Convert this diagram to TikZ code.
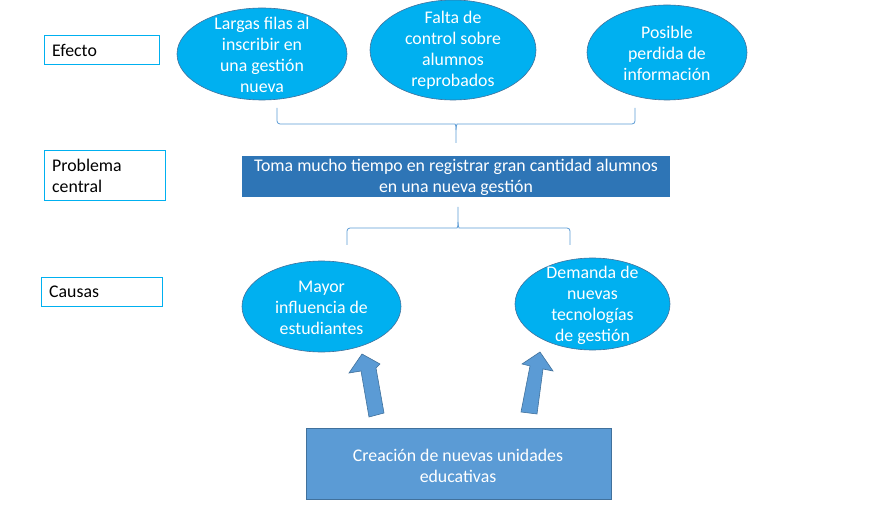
\documentclass[tikz,border=0pt]{standalone}
\usepackage{fontspec}
\setmainfont{Carlito}
\usetikzlibrary{shapes.geometric}
\definecolor{cyanf}{HTML}{00B0F0}
\definecolor{edgeb}{HTML}{41719C}
\definecolor{probf}{HTML}{2E75B6}
\definecolor{lightb}{HTML}{5B9BD5}
\tikzset{
  lbl/.style={draw=cyanf, line width=1pt, fill=white, anchor=north west, inner sep=0pt},
  lbltxt/.style={anchor=west, font=\fontsize{17.8}{21}\selectfont, align=left, inner sep=0pt},
  ell/.style={ellipse, draw=edgeb, line width=0.6pt, fill=cyanf, inner sep=0pt},
  elltxt/.style={text=white, font=\fontsize{17.8}{21}\selectfont, align=center, inner sep=0pt},
  brace/.style={draw=lightb, line width=0.8pt, rounded corners=3pt},
  blockarrow/.style={fill=lightb, draw=edgeb, line width=0.6pt, line join=miter},
}
\begin{document}
\begin{tikzpicture}[x=1pt,y=-1pt]
\useasboundingbox (0,0) rectangle (891,529);
% side labels
\node[lbl, minimum width=115pt, minimum height=29pt] (efecto) at (44,35) {};
\node[lbltxt] at (52,50) {Efecto};
\node[lbl, minimum width=121pt, minimum height=50pt] (problema) at (44,150) {};
\node[lbltxt] at (52,176) {Problema\\central};
\node[lbl, minimum width=121pt, minimum height=29pt] (causas) at (41,277) {};
\node[lbltxt] at (49,292) {Causas};
% effect ellipses
\node[ell, minimum width=170pt, minimum height=92pt] (e1) at (262,54) {};
\node[elltxt] at (262,55) {Largas filas al\\inscribir en\\una gestión\\nueva};
\node[ell, minimum width=166pt, minimum height=100pt] (e2) at (453,50) {};
\node[elltxt] at (453,50) {Falta de\\control sobre\\alumnos\\reprobados};
\node[ell, minimum width=160pt, minimum height=95pt] (e3) at (667,52.5) {};
\node[elltxt] at (667,53.5) {Posible\\perdida de\\información};
% top brace
\coordinate (tbL) at (277,108);
\coordinate (tbR) at (635,108);
\coordinate (tbT) at (456,143);
\draw[brace] (tbL) -- (tbL |- 0,124) -- (452,124) .. controls (455,124) and (456,126) .. (456,130) -- (tbT);
\draw[brace] (tbR) -- (tbR |- 0,124) -- (460,124) .. controls (457,124) and (456,126) .. (456,130);
% central problem
\node[fill=probf, minimum width=428pt, minimum height=41pt, inner sep=0pt] (prob) at (456,176.5) {};
\node[elltxt] at (456,177.5) {Toma mucho tiempo en registrar gran cantidad alumnos\\en una nueva gestión};
% lower brace
\coordinate (lbL) at (347,245);
\coordinate (lbR) at (570,245);
\coordinate (lbT) at (458,207);
\draw[brace] (lbL) -- (lbL |- 0,228) -- (454,228) .. controls (457,228) and (458,226) .. (458,222) -- (lbT);
\draw[brace] (lbR) -- (lbR |- 0,228) -- (462,228) .. controls (459,228) and (458,226) .. (458,222);
% cause ellipses
\node[ell, minimum width=159pt, minimum height=91pt] (c1) at (321.5,306.5) {};
\node[elltxt] at (321.5,308) {Mayor\\influencia de\\estudiantes};
\node[ell, minimum width=155pt, minimum height=92pt] (c2) at (592.5,304) {};
\node[elltxt] at (592.5,305.5) {Demanda de\\nuevas\\tecnologías\\de gestión};
% bottom box
\node[fill=lightb, draw=edgeb, line width=0.8pt, minimum width=305pt, minimum height=71pt, inner sep=0pt] (root) at (458.5,463.5) {};
\node[elltxt] at (458,465.5) {Creación de nuevas unidades\\educativas};
% block arrows
\draw[blockarrow] (369,417) -- (384,413) -- (376,368) -- (380,364) -- (362,354) -- (349,373) -- (361,371) -- cycle;
\draw[blockarrow] (521,412) -- (537,414) -- (543,369) -- (553,371) -- (540,352) -- (522,364) -- (530,366) -- cycle;
\end{tikzpicture}
\end{document}
